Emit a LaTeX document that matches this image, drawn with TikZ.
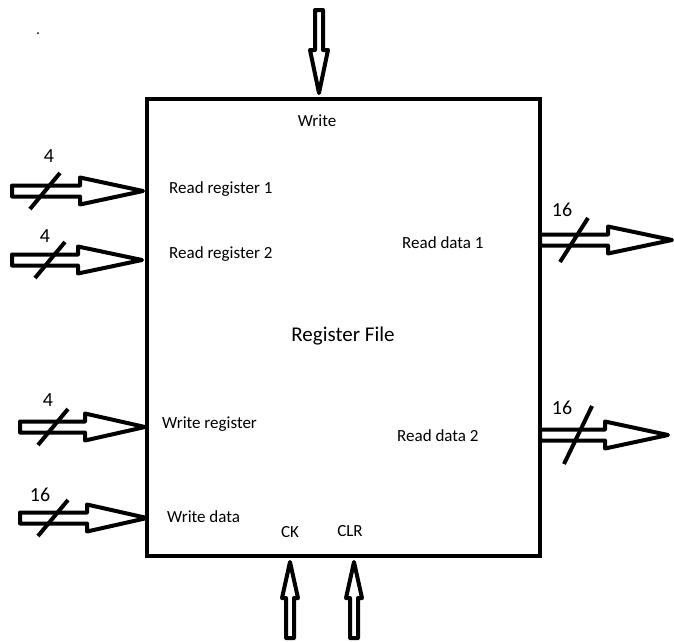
\documentclass[tikz,border=0pt]{standalone}
\usepackage{fontspec}
\setmainfont{Carlito}
\begin{document}
\begin{tikzpicture}[x=1pt, y=-1pt,
  lab/.style={font=\fontsize{17}{19}\selectfont, inner sep=0pt},
  num/.style={font=\fontsize{20}{22}\selectfont, inner sep=0pt},
  bus/.style={line width=4pt, line join=round}]

\useasboundingbox (0,0) rectangle (674,641);

% register file box
\draw[line width=4pt] (147,99) rectangle (540,556);
\node[font=\fontsize{21}{24}\selectfont, inner sep=0pt] (rf) at (343,336) {Register File};

% port labels
\node[lab] (wr) at (317,121) {Write};
\node[lab, anchor=west] (rr1) at (169,189) {Read register 1};
\node[lab, anchor=west] (rr2) at (169,254) {Read register 2};
\node[lab, anchor=west] (wreg) at (162,424) {Write register};
\node[lab, anchor=west] (wd) at (167,517) {Write data};
\node[lab, anchor=west] (rd1) at (402,243) {Read data 1};
\node[lab, anchor=west] (rd2) at (397,436) {Read data 2};
\node[lab] (ck) at (290,532) {CK};
\node[lab] (clr) at (350,531) {CLR};

% input buses
\foreach \y/\xa/\xb/\xc/\xs/\sy/\xn/\yn/\w [count=\i] in
  {191/12/80/143/45/18/49/156/4, 260/12/78/142/50/18/45/236/4,
   427/20/85/145/53/18/48/400/4, 518/20/87/147/53/18/40/495/16}
{
  \draw[bus] (\xa,\y-5.5) -- (\xb,\y-5.5) -- (\xb,\y-13.5) -- (\xc,\y)
    -- (\xb,\y+13.5) -- (\xb,\y+5.5) -- (\xa,\y+5.5) -- cycle;
  \draw[bus] (\xs-15,\y+\sy) -- (\xs+15,\y-\sy);
  \node[num] (in\i) at (\xn,\yn) {\w};
}

% output buses
\foreach \y/\xb/\xc/\xs/\sy/\yn [count=\i] in
  {240/608/672/574/22/210, 435/605/668/578/29/408}
{
  \draw[bus] (540,\y-5.5) -- (\xb,\y-5.5) -- (\xb,\y-13.5) -- (\xc,\y)
    -- (\xb,\y+13.5) -- (\xb,\y+5.5) -- (540,\y+5.5) -- cycle;
  \draw[bus] (\xs-14,\y+\sy) -- (\xs+14,\y-\sy);
  \node[num] (out\i) at (562,\yn) {16};
}

% write enable
\draw[bus] (315,10) -- (315,50) -- (310,50) -- (319,93) -- (328,50)
  -- (323,50) -- (323,10) -- cycle;

% clock and clear
\foreach \x in {290,354}
  \draw[bus] (\x-4,638) -- (\x-4,598) -- (\x-8,598) -- (\x,562)
    -- (\x+8,598) -- (\x+4,598) -- (\x+4,638) -- cycle;

\fill (38,33) circle (1);

\end{tikzpicture}
\end{document}
